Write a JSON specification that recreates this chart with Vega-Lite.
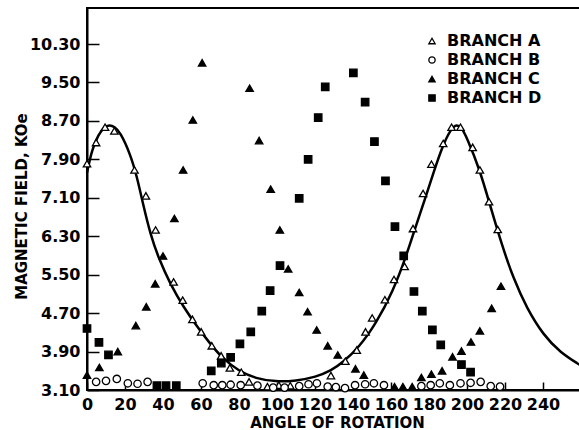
{
  "$schema": "https://vega.github.io/schema/vega-lite/v6.json",
  "width": 493,
  "height": 382,
  "autosize": {"type": "none"},
  "padding": {"left": 87, "top": 8, "right": 0, "bottom": 40},
  "background": "white",
  "config": {
    "view": {"stroke": "black", "strokeWidth": 2},
    "font": "DejaVu Sans",
    "legend": {
      "title": null,
      "orient": "none",
      "legendX": 337,
      "legendY": 25,
      "symbolSize": 40,
      "symbolStrokeWidth": 1.3,
      "labelFont": "DejaVu Sans",
      "labelFontSize": 16,
      "labelFontWeight": "bold",
      "labelColor": "black",
      "labelOffset": 7,
      "rowPadding": 3
    }
  },
  "datasets": {
    "points": [
      {"branch": "BRANCH A", "angle": 0, "field": 7.81},
      {"branch": "BRANCH A", "angle": 4.8, "field": 8.25},
      {"branch": "BRANCH A", "angle": 9.5, "field": 8.57},
      {"branch": "BRANCH A", "angle": 14.4, "field": 8.49},
      {"branch": "BRANCH A", "angle": 25, "field": 7.68},
      {"branch": "BRANCH A", "angle": 31, "field": 7.14},
      {"branch": "BRANCH A", "angle": 36.1, "field": 6.43},
      {"branch": "BRANCH A", "angle": 45.6, "field": 5.35},
      {"branch": "BRANCH A", "angle": 50.4, "field": 4.97},
      {"branch": "BRANCH A", "angle": 55.5, "field": 4.57},
      {"branch": "BRANCH A", "angle": 60.1, "field": 4.31},
      {"branch": "BRANCH A", "angle": 65.7, "field": 4.02},
      {"branch": "BRANCH A", "angle": 70.6, "field": 3.81},
      {"branch": "BRANCH A", "angle": 75.2, "field": 3.56},
      {"branch": "BRANCH A", "angle": 81.2, "field": 3.47},
      {"branch": "BRANCH A", "angle": 85.3, "field": 3.27},
      {"branch": "BRANCH A", "angle": 95, "field": 3.17},
      {"branch": "BRANCH A", "angle": 101, "field": 3.2},
      {"branch": "BRANCH A", "angle": 107, "field": 3.19},
      {"branch": "BRANCH A", "angle": 128.4, "field": 3.4},
      {"branch": "BRANCH A", "angle": 136, "field": 3.7},
      {"branch": "BRANCH A", "angle": 142, "field": 3.93},
      {"branch": "BRANCH A", "angle": 146.6, "field": 4.31},
      {"branch": "BRANCH A", "angle": 150.1, "field": 4.6},
      {"branch": "BRANCH A", "angle": 156.8, "field": 4.98},
      {"branch": "BRANCH A", "angle": 161.6, "field": 5.4},
      {"branch": "BRANCH A", "angle": 167.2, "field": 5.67},
      {"branch": "BRANCH A", "angle": 171.6, "field": 6.46},
      {"branch": "BRANCH A", "angle": 176.9, "field": 7.19},
      {"branch": "BRANCH A", "angle": 181.3, "field": 7.8},
      {"branch": "BRANCH A", "angle": 187.5, "field": 8.23},
      {"branch": "BRANCH A", "angle": 191.9, "field": 8.57},
      {"branch": "BRANCH A", "angle": 196.6, "field": 8.57},
      {"branch": "BRANCH A", "angle": 203, "field": 8.15},
      {"branch": "BRANCH A", "angle": 206.8, "field": 7.68},
      {"branch": "BRANCH A", "angle": 211.6, "field": 7.02},
      {"branch": "BRANCH A", "angle": 216.2, "field": 6.44},
      {"branch": "BRANCH B", "angle": 4.8, "field": 3.27},
      {"branch": "BRANCH B", "angle": 10, "field": 3.29},
      {"branch": "BRANCH B", "angle": 15.7, "field": 3.33},
      {"branch": "BRANCH B", "angle": 21.5, "field": 3.24},
      {"branch": "BRANCH B", "angle": 26.6, "field": 3.23},
      {"branch": "BRANCH B", "angle": 31.9, "field": 3.27},
      {"branch": "BRANCH B", "angle": 60.9, "field": 3.24},
      {"branch": "BRANCH B", "angle": 66.7, "field": 3.2},
      {"branch": "BRANCH B", "angle": 71.2, "field": 3.2},
      {"branch": "BRANCH B", "angle": 75.6, "field": 3.21},
      {"branch": "BRANCH B", "angle": 80.9, "field": 3.2},
      {"branch": "BRANCH B", "angle": 89.7, "field": 3.19},
      {"branch": "BRANCH B", "angle": 98, "field": 3.15},
      {"branch": "BRANCH B", "angle": 104, "field": 3.15},
      {"branch": "BRANCH B", "angle": 111.7, "field": 3.18},
      {"branch": "BRANCH B", "angle": 116.6, "field": 3.22},
      {"branch": "BRANCH B", "angle": 121, "field": 3.24},
      {"branch": "BRANCH B", "angle": 126.7, "field": 3.17},
      {"branch": "BRANCH B", "angle": 131, "field": 3.16},
      {"branch": "BRANCH B", "angle": 135.8, "field": 3.14},
      {"branch": "BRANCH B", "angle": 141.1, "field": 3.2},
      {"branch": "BRANCH B", "angle": 146.4, "field": 3.22},
      {"branch": "BRANCH B", "angle": 151, "field": 3.24},
      {"branch": "BRANCH B", "angle": 156.3, "field": 3.2},
      {"branch": "BRANCH B", "angle": 176, "field": 3.18},
      {"branch": "BRANCH B", "angle": 180.9, "field": 3.2},
      {"branch": "BRANCH B", "angle": 185.7, "field": 3.24},
      {"branch": "BRANCH B", "angle": 191, "field": 3.2},
      {"branch": "BRANCH B", "angle": 196.6, "field": 3.24},
      {"branch": "BRANCH B", "angle": 201.9, "field": 3.25},
      {"branch": "BRANCH B", "angle": 207.2, "field": 3.27},
      {"branch": "BRANCH B", "angle": 212.5, "field": 3.18},
      {"branch": "BRANCH B", "angle": 217.4, "field": 3.17},
      {"branch": "BRANCH C", "angle": 0, "field": 3.41},
      {"branch": "BRANCH C", "angle": 6.5, "field": 3.57},
      {"branch": "BRANCH C", "angle": 16.2, "field": 3.9},
      {"branch": "BRANCH C", "angle": 25.7, "field": 4.44},
      {"branch": "BRANCH C", "angle": 31.2, "field": 4.83},
      {"branch": "BRANCH C", "angle": 35.9, "field": 5.31},
      {"branch": "BRANCH C", "angle": 40, "field": 5.89},
      {"branch": "BRANCH C", "angle": 46, "field": 6.67},
      {"branch": "BRANCH C", "angle": 50.6, "field": 7.68},
      {"branch": "BRANCH C", "angle": 55.7, "field": 8.72},
      {"branch": "BRANCH C", "angle": 60.6, "field": 9.91},
      {"branch": "BRANCH C", "angle": 85.6, "field": 9.38},
      {"branch": "BRANCH C", "angle": 90.6, "field": 8.29},
      {"branch": "BRANCH C", "angle": 96.7, "field": 7.28},
      {"branch": "BRANCH C", "angle": 101.5, "field": 6.43},
      {"branch": "BRANCH C", "angle": 105.9, "field": 5.62},
      {"branch": "BRANCH C", "angle": 111.7, "field": 5.13},
      {"branch": "BRANCH C", "angle": 116.1, "field": 4.73},
      {"branch": "BRANCH C", "angle": 120.9, "field": 4.35},
      {"branch": "BRANCH C", "angle": 126.7, "field": 4.02},
      {"branch": "BRANCH C", "angle": 132, "field": 3.83},
      {"branch": "BRANCH C", "angle": 141.3, "field": 3.54},
      {"branch": "BRANCH C", "angle": 145.7, "field": 3.41},
      {"branch": "BRANCH C", "angle": 161.9, "field": 3.17},
      {"branch": "BRANCH C", "angle": 166.3, "field": 3.17},
      {"branch": "BRANCH C", "angle": 171.2, "field": 3.17},
      {"branch": "BRANCH C", "angle": 176, "field": 3.36},
      {"branch": "BRANCH C", "angle": 181.3, "field": 3.43},
      {"branch": "BRANCH C", "angle": 186.9, "field": 3.5},
      {"branch": "BRANCH C", "angle": 192.4, "field": 3.79},
      {"branch": "BRANCH C", "angle": 197.1, "field": 3.91},
      {"branch": "BRANCH C", "angle": 202.1, "field": 4.1},
      {"branch": "BRANCH C", "angle": 206.8, "field": 4.33},
      {"branch": "BRANCH C", "angle": 213, "field": 4.8},
      {"branch": "BRANCH C", "angle": 217.9, "field": 5.26},
      {"branch": "BRANCH D", "angle": 0, "field": 4.38},
      {"branch": "BRANCH D", "angle": 6.3, "field": 4.09},
      {"branch": "BRANCH D", "angle": 11.3, "field": 3.83},
      {"branch": "BRANCH D", "angle": 36.8, "field": 3.19},
      {"branch": "BRANCH D", "angle": 41.6, "field": 3.19},
      {"branch": "BRANCH D", "angle": 47, "field": 3.19},
      {"branch": "BRANCH D", "angle": 65.4, "field": 3.5},
      {"branch": "BRANCH D", "angle": 70.7, "field": 3.66},
      {"branch": "BRANCH D", "angle": 75.6, "field": 3.78},
      {"branch": "BRANCH D", "angle": 80.5, "field": 4.06},
      {"branch": "BRANCH D", "angle": 86.2, "field": 4.31},
      {"branch": "BRANCH D", "angle": 92, "field": 4.74},
      {"branch": "BRANCH D", "angle": 96.4, "field": 5.17},
      {"branch": "BRANCH D", "angle": 101.6, "field": 5.69},
      {"branch": "BRANCH D", "angle": 111.7, "field": 7.09},
      {"branch": "BRANCH D", "angle": 116.4, "field": 7.9},
      {"branch": "BRANCH D", "angle": 121.7, "field": 8.77},
      {"branch": "BRANCH D", "angle": 125.4, "field": 9.41},
      {"branch": "BRANCH D", "angle": 140.2, "field": 9.7},
      {"branch": "BRANCH D", "angle": 146.4, "field": 9.09},
      {"branch": "BRANCH D", "angle": 151.3, "field": 8.27},
      {"branch": "BRANCH D", "angle": 157.1, "field": 7.45},
      {"branch": "BRANCH D", "angle": 162.1, "field": 6.5},
      {"branch": "BRANCH D", "angle": 166.7, "field": 5.89},
      {"branch": "BRANCH D", "angle": 172.1, "field": 5.15},
      {"branch": "BRANCH D", "angle": 176.5, "field": 4.74},
      {"branch": "BRANCH D", "angle": 181.8, "field": 4.35},
      {"branch": "BRANCH D", "angle": 186.2, "field": 4.04},
      {"branch": "BRANCH D", "angle": 197.1, "field": 3.63},
      {"branch": "BRANCH D", "angle": 201.9, "field": 3.47}
    ],
    "curve": [
      {"angle": 0, "field": 7.62},
      {"angle": 2.5, "field": 8.09},
      {"angle": 6, "field": 8.42},
      {"angle": 9, "field": 8.57},
      {"angle": 11.8, "field": 8.62},
      {"angle": 14.5, "field": 8.58},
      {"angle": 17.4, "field": 8.47},
      {"angle": 22.7, "field": 8.02},
      {"angle": 26.3, "field": 7.54},
      {"angle": 29.6, "field": 6.95},
      {"angle": 33.3, "field": 6.35},
      {"angle": 37.7, "field": 5.84},
      {"angle": 43.9, "field": 5.3},
      {"angle": 50.9, "field": 4.82},
      {"angle": 58, "field": 4.42},
      {"angle": 64.1, "field": 4.1},
      {"angle": 71.2, "field": 3.76},
      {"angle": 80, "field": 3.49},
      {"angle": 88.8, "field": 3.34},
      {"angle": 99.4, "field": 3.27},
      {"angle": 110, "field": 3.29},
      {"angle": 120.5, "field": 3.37},
      {"angle": 128.4, "field": 3.5},
      {"angle": 134.6, "field": 3.67},
      {"angle": 143.4, "field": 4.0},
      {"angle": 152.2, "field": 4.49},
      {"angle": 161, "field": 5.15},
      {"angle": 168, "field": 5.88},
      {"angle": 173.4, "field": 6.55},
      {"angle": 177.7, "field": 7.05},
      {"angle": 182.2, "field": 7.6},
      {"angle": 187.5, "field": 8.22},
      {"angle": 191.9, "field": 8.55},
      {"angle": 194.5, "field": 8.63},
      {"angle": 197, "field": 8.57},
      {"angle": 199.8, "field": 8.37},
      {"angle": 206.8, "field": 7.68},
      {"angle": 212.1, "field": 6.95},
      {"angle": 218.5, "field": 6.1},
      {"angle": 224.5, "field": 5.42},
      {"angle": 231.5, "field": 4.8},
      {"angle": 240.3, "field": 4.24},
      {"angle": 249.1, "field": 3.88},
      {"angle": 259.5, "field": 3.62}
    ]
  },
  "encoding": {
    "x": {
      "field": "angle",
      "type": "quantitative",
      "scale": {"domain": [0, 259.5], "nice": false, "zero": false},
      "axis": {
        "values": [0, 20, 40, 60, 80, 100, 120, 140, 160, 180, 200, 220, 240],
        "format": "d",
        "title": "ANGLE OF ROTATION",
        "grid": false,
        "domainColor": "black",
        "domainWidth": 2,
        "tickColor": "black",
        "tickWidth": 1.5,
        "tickSize": -8,
        "labelPadding": 14,
        "labelFont": "DejaVu Sans",
        "labelFontSize": 16,
        "labelFontWeight": "bold",
        "labelColor": "black",
        "labelFlush": false,
        "labelOverlap": false,
        "titleFont": "DejaVu Sans",
        "titleFontSize": 15,
        "titleFontWeight": "bold",
        "titleColor": "black",
        "titleX": 250,
        "titleY": 37,
        "titleBaseline": "alphabetic",
        "titleAlign": "center"
      }
    },
    "y": {
      "field": "field",
      "type": "quantitative",
      "scale": {"domain": [3.1, 11.05], "nice": false, "zero": false},
      "axis": {
        "values": [3.1, 3.9, 4.7, 5.5, 6.3, 7.1, 7.9, 8.7, 9.5, 10.3],
        "format": ".2f",
        "title": "MAGNETIC FIELD, KOe",
        "grid": false,
        "domainColor": "black",
        "domainWidth": 2,
        "tickColor": "black",
        "tickWidth": 1.5,
        "tickSize": -12,
        "labelPadding": 19,
        "labelFont": "DejaVu Sans",
        "labelFontSize": 16,
        "labelFontWeight": "bold",
        "labelColor": "black",
        "labelFlush": false,
        "labelOverlap": false,
        "titleFont": "DejaVu Sans",
        "titleFontSize": 15,
        "titleFontWeight": "bold",
        "titleColor": "black",
        "titleX": -61,
        "titleY": 198,
        "titleAngle": -90,
        "titleBaseline": "alphabetic",
        "titleAlign": "center"
      }
    }
  },
  "layer": [
    {
      "data": {"name": "curve"},
      "mark": {"type": "line", "color": "black", "strokeWidth": 2.5, "interpolate": "basis"}
    },
    {
      "data": {"name": "points"},
      "mark": {"type": "point", "filled": true, "size": 55, "strokeWidth": 1.3, "opacity": 1},
      "encoding": {
        "shape": {
          "field": "branch",
          "type": "nominal",
          "scale": {"domain": ["BRANCH A", "BRANCH B", "BRANCH C", "BRANCH D"], "range": ["triangle-up", "circle", "triangle-up", "square"]}
        },
        "fill": {
          "field": "branch",
          "type": "nominal",
          "scale": {"domain": ["BRANCH A", "BRANCH B", "BRANCH C", "BRANCH D"], "range": ["white", "white", "black", "black"]}
        },
        "stroke": {
          "field": "branch",
          "type": "nominal",
          "scale": {"domain": ["BRANCH A", "BRANCH B", "BRANCH C", "BRANCH D"], "range": ["black", "black", "black", "black"]}
        }
      }
    }
  ]
}
